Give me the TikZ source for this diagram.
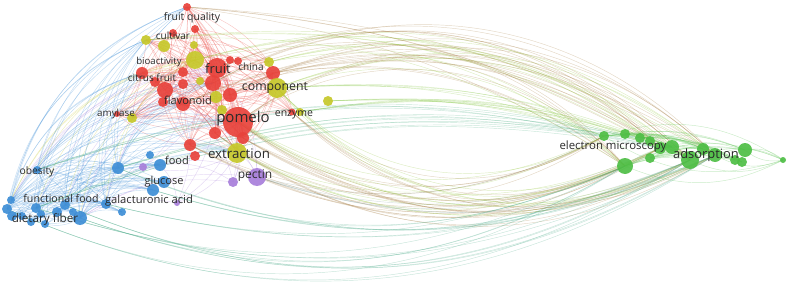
\documentclass[tikz,border=0pt]{standalone}
\usepackage{fontspec}
\setmainfont{Open Sans}
\pgfdeclarelayer{background}
\pgfsetlayers{background,main}
\definecolor{cred}{HTML}{E8423B}
\definecolor{cyel}{HTML}{C6C82A}
\definecolor{cblu}{HTML}{3E8ED6}
\definecolor{cgrn}{HTML}{4EBE45}
\definecolor{cpur}{HTML}{A77EDA}
\definecolor{ctxt}{HTML}{2B2B2B}
\tikzset{
  kw/.style={circle,inner sep=0pt,minimum size=#1,fill opacity=0.92},
  lbl/.style={text=ctxt,inner sep=0pt,font=\fontsize{#1}{#1}\selectfont},
  ln/.style={line width=0.45pt,draw opacity=0.3},
}
\begin{document}
\begin{tikzpicture}[x=1pt,y=-1pt]
\useasboundingbox (0,0) rectangle (789,286);
% red cluster
\node[kw=8,fill=cred] (rtop) at (187,7) {};
\node[kw=8,fill=cred] (rfq) at (195,29) {};
\node[kw=8,fill=cred] (rcv) at (173,33) {};
\node[kw=12,fill=cred] (rcf) at (142,73) {};
\node[kw=10,fill=cred] (rb1) at (155,82) {};
\node[kw=16,fill=cred] (rb2) at (165,90) {};
\node[kw=10,fill=cred] (rb3) at (183,72) {};
\node[kw=10,fill=cred] (rb4) at (183,84) {};
\node[kw=14,fill=cred] (rfl) at (183,104) {};
\node[kw=10,fill=cred] (rfl2) at (163,102) {};
\node[kw=8,fill=cred] (rc1) at (230,60) {};
\node[kw=8,fill=cred] (rc2) at (238,61) {};
\node[kw=14,fill=cred] (r273) at (273,73) {};
\node[kw=14,fill=cred] (r230) at (230,95) {};
\node[kw=16,fill=cred] (r212) at (213,83) {};
\node[kw=20,fill=cred] (fruit) at (217,68) {};
\node[kw=12,fill=cred] (r214) at (215,133) {};
\node[kw=12,fill=cred] (r243) at (243,138) {};
\node[kw=12,fill=cred] (r190) at (190,145) {};
\node[kw=10,fill=cred] (r194) at (195,156) {};
\node[kw=7,fill=cred] (r285) at (292,112) {};
\node[kw=6,fill=cred] (ramyl) at (117,114) {};
\node[kw=30,fill=cred] (pomelo) at (238,122) {};
% yellow cluster
\node[kw=10,fill=cyel] (ycv1) at (146,40) {};
\node[kw=12,fill=cyel] (ycv2) at (164,46) {};
\node[kw=8,fill=cyel] (y194b) at (194,45) {};
\node[kw=18,fill=cyel] (y194) at (195,60) {};
\node[kw=10,fill=cyel] (ych) at (269,62) {};
\node[kw=20,fill=cyel] (ycomp) at (277,88) {};
\node[kw=10,fill=cyel] (y328) at (328,101) {};
\node[kw=8,fill=cyel] (yenz) at (300,112) {};
\node[kw=10,fill=cyel] (yamyl) at (132,118) {};
\node[kw=10,fill=cyel] (y222) at (222,110) {};
\node[kw=8,fill=cyel] (y200) at (200,81) {};
\node[kw=12,fill=cyel] (y216) at (216,97) {};
\node[kw=20,fill=cyel] (yext) at (237,153) {};
% purple cluster
\node[kw=18,fill=cpur] (ppec) at (257,177) {};
\node[kw=10,fill=cpur] (p233) at (233,182) {};
\node[kw=8,fill=cpur] (p143) at (143,167) {};
\node[kw=6,fill=cpur] (p177) at (177,203) {};
% blue cluster
\node[kw=12,fill=cblu] (b160) at (160,165) {};
\node[kw=8,fill=cblu] (b150) at (150,155) {};
\node[kw=12,fill=cblu] (b119) at (118,168) {};
\node[kw=12,fill=cblu] (b153) at (153,190) {};
\node[kw=12,fill=cblu] (b163) at (164,182) {};
\node[kw=10,fill=cblu] (b105) at (106,204) {};
\node[kw=8,fill=cblu] (b122) at (122,212) {};
\node[kw=8,fill=cblu] (bob) at (37,170) {};
\node[kw=8,fill=cblu] (bl1) at (11,200) {};
\node[kw=10,fill=cblu] (bl2) at (7,209) {};
\node[kw=10,fill=cblu] (bl3) at (12,216) {};
\node[kw=8,fill=cblu] (bl4) at (22,216) {};
\node[kw=10,fill=cblu] (bl5) at (36,208) {};
\node[kw=8,fill=cblu] (bl6) at (41,214) {};
\node[kw=10,fill=cblu] (bl7) at (57,212) {};
\node[kw=10,fill=cblu] (bl8) at (65,205) {};
\node[kw=8,fill=cblu] (bl9) at (73,212) {};
\node[kw=8,fill=cblu] (bl10) at (45,224) {};
\node[kw=8,fill=cblu] (bl11) at (31,222) {};
\node[kw=14,fill=cblu] (bdf) at (80,218) {};
% green cluster
\node[kw=10,fill=cgrn] (g1) at (604,136) {};
\node[kw=10,fill=cgrn] (g2) at (625,134) {};
\node[kw=10,fill=cgrn] (g3) at (640,138) {};
\node[kw=10,fill=cgrn] (g4) at (650,141) {};
\node[kw=12,fill=cgrn] (g5) at (660,148) {};
\node[kw=16,fill=cgrn] (g6) at (625,166) {};
\node[kw=10,fill=cgrn] (g7) at (650,158) {};
\node[kw=14,fill=cgrn] (g8) at (672,147) {};
\node[kw=18,fill=cgrn] (g9) at (690,160) {};
\node[kw=12,fill=cgrn] (g10) at (703,149) {};
\node[kw=14,fill=cgrn] (g11) at (715,155) {};
\node[kw=10,fill=cgrn] (g12) at (735,160) {};
\node[kw=14,fill=cgrn] (g13) at (745,150) {};
\node[kw=10,fill=cgrn] (g14) at (742,162) {};
\node[kw=6,fill=cgrn] (g15) at (783,160) {};
% labels
\node[lbl=10.5] (tfq) at (192,18) {fruit quality};
\node[lbl=10] (tcv) at (173,36) {cultivar};
\node[lbl=9.6] (tba) at (159,62) {bioactivity};
\node[lbl=10] (tcf) at (152,78) {citrus fruit};
\node[lbl=13] (tfruit) at (218,69) {fruit};
\node[lbl=10] (tchina) at (251,67) {china};
\node[lbl=12.3] (tcomp) at (275,88) {component};
\node[lbl=11] (tfl) at (188,100) {flavonoid};
\node[lbl=9.8] (tamyl) at (116,114) {amylase};
\node[lbl=15] (tpomelo) at (243,119) {pomelo};
\node[lbl=10.5] (tenz) at (294,115) {enzyme};
\node[lbl=13.3] (text) at (239,154) {extraction};
\node[lbl=11] (tfood) at (177,160) {food};
\node[lbl=12] (tpec) at (255,176) {pectin};
\node[lbl=11] (tglu) at (164,182) {glucose};
\node[lbl=10.3] (tob) at (37,172) {obesity};
\node[lbl=10.6] (tff) at (61,198) {functional food};
\node[lbl=11.2] (tga) at (149,201) {galacturonic acid};
\node[lbl=11.7] (tdf) at (45,219) {dietary fiber};
\node[lbl=11.4] (tem) at (613,147) {electron microscopy};
\node[lbl=12.9] (tads) at (706,155) {adsorption};
\begin{pgfonlayer}{background}
\foreach \a in {pomelo,fruit,rfl,rcf,rtop,rfq,r273,r190,ycv1,ycomp,yamyl,rb1,y194b}
  \foreach \b in {r212,r230,rb2,rc1,r214,r243,yext,y194,ych,rfl2,ramyl,y216,r285,rcv,rb3,y222}
    \draw[ln,cred] (\a.center) to[bend left=18] (\b.center);
\foreach \a in {bl1,bl2,bl3,bl5,bl7,bl8,bdf,bob,bl11}
  \foreach \b in {b119,b153,b163,b160,b105,b122,bl4,bl6,bl9,bl10}
    \draw[ln,cblu] (\a.center) to[bend left=22] (\b.center);
\foreach \a in {bl1,bl2,bl5,bl8,bdf,bob,b119,b105}
  \foreach \b/\c in {rfl/cblu,pomelo/cblu,fruit/cpur,rcf/cblu,r212/cblu,y194/cyel,ycv1/cblu,rtop/cblu,yext/cblu}
    \draw[ln,\c] (\a.center) to[bend left=28] (\b.center);
\foreach \a in {p143,p233,ppec,p177}
  \foreach \b in {pomelo,rfl,b160,bdf,fruit,yext}
    \draw[ln,cpur] (\a.center) to[bend right=20] (\b.center);
% long arcs over the top
\foreach \a/\c/\k in {pomelo/cred/40,fruit/cred/33,ycomp/cyel/30,ych/cyel/27,r273/cred/22,r230/cred/36,rfl/cred/30,y194/cyel/26,r212/cred/38,ycv1/cyel/18,rtop/cred/12}
  \foreach \b in {g5,g9,g11,g6}
    \draw[ln,\c!55!cgrn] (\a.center) to[bend left=\k] (\b.center);
% green bundle past enzyme
\foreach \a/\c/\k in {y328/cyel/10,yenz/cyel/14,ycomp/cyel/12,bob/cblu/16,b119/cblu/14,bl5/cblu/15}
  \foreach \b in {g1,g3,g5,g8}
    \draw[ln,\c!40!cgrn] (\a.center) to[bend left=\k] (\b.center);
% long arcs underneath
\foreach \a/\c/\k in {pomelo/cred/32,yext/cyel/26,ppec/cpur/20,r214/cred/34,r243/cred/28,r190/cred/26,y222/cyel/30,r285/cred/36,ycomp/cyel/38}
  \foreach \b in {g6,g9,g11,g1,g5}
    \draw[ln,\c!55!cgrn] (\a.center) to[bend right=\k] (\b.center);
\foreach \a/\k in {bdf/25,bl5/22,bl8/27,b105/18,b153/20,b119/23,bl2/28}
  \foreach \b in {g6,g9,g11}
    \draw[ln,cblu!45!cgrn] (\a.center) to[bend right=\k] (\b.center);
% green cluster
\foreach \a in {g1,g2,g3,g6,g7,g5}
  \foreach \b in {g8,g9,g10,g11,g12,g13,g14}
    \draw[ln,cgrn] (\a.center) to[bend left=15] (\b.center);
\foreach \a in {g9,g11,g13,g6,g1}
  \foreach \k in {25,-25}
    \draw[ln,cgrn] (\a.center) to[bend left=\k] (g15.center);
\end{pgfonlayer}
\end{tikzpicture}
\end{document}
